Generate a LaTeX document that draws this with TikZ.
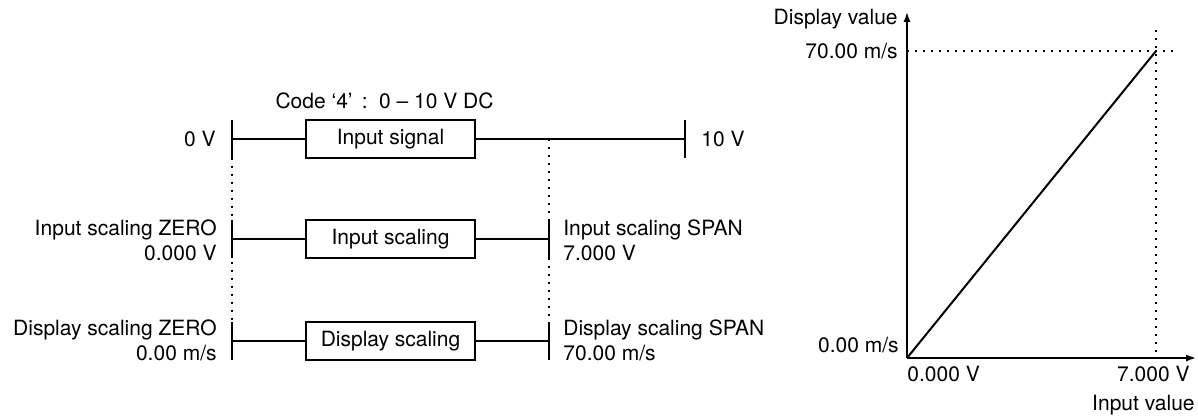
\documentclass[tikz,border=0pt]{standalone}
\usepackage{fontspec}
\setmainfont{TeX Gyre Heros}
\usepackage{tikz}
\usetikzlibrary{positioning,arrows.meta}

\begin{document}
\begin{tikzpicture}[x=0.5pt,y=-0.5pt,font=\fontsize{10.5}{12.5}\selectfont,
   blk/.style={draw,line width=1pt,minimum width=84.5pt,minimum height=19pt,inner sep=0pt},
   lbl/.style={inner sep=0pt},
   bar/.style={line width=1pt},
   guide/.style={line width=1pt,dash pattern=on 1pt off 3pt},
   axis/.style={line width=0.8pt,-{Latex[length=5pt,width=3.6pt]}}]
  \useasboundingbox (0,0) rectangle (1198,416);
  % scaling chain
  \node[blk] (sig) at (390.5,139) {Input signal};
  \node[blk] (isc) at (390.5,239.5) {Input scaling};
  \node[blk] (dsc) at (390.5,341) {Display scaling};
  \node[lbl,above=5pt of sig,xshift=-3pt] (code) {Code ‘4’\, : \,0 – 10 V DC};
  \coordinate (z1) at (232,139);
  \coordinate (s1) at (685,139);
  \coordinate (m1) at (549,139);
  \coordinate (z2) at (232,239.5);
  \coordinate (s2) at (549,239.5);
  \coordinate (z3) at (232,341);
  \coordinate (s3) at (549,341);
  \foreach \c in {z1,s1,z2,s2,z3,s3}
    \draw[bar] ([yshift=9.5pt]\c) -- ([yshift=-9.5pt]\c);
  \draw[bar] (z1) -- (sig.west);
  \draw[bar] (sig.east) -- (s1);
  \draw[bar] (z2) -- (isc.west);
  \draw[bar] (isc.east) -- (s2);
  \draw[bar] (z3) -- (dsc.west);
  \draw[bar] (dsc.east) -- (s3);
  \draw[guide] ([yshift=-9.5pt]z1) -- ([yshift=9.5pt]z3);
  \draw[guide] (m1) -- ([yshift=9.5pt]s2);
  \draw[guide] ([yshift=-9.5pt]s2) -- ([yshift=9.5pt]s3);
  \node[lbl,anchor=east] (l1) at (216,139) {0 V};
  \node[lbl,anchor=west] (r1) at (701,139) {10 V};
  \node[lbl,anchor=east,align=right] (l2) at (217,240) {Input scaling ZERO\\0.000 V};
  \node[lbl,anchor=west,align=left] (r2) at (563,240) {Input scaling SPAN\\7.000 V};
  \node[lbl,anchor=east,align=right] (l3) at (217,340) {Display scaling ZERO\\0.00 m/s};
  \node[lbl,anchor=west,align=left] (r3) at (563,340) {Display scaling SPAN\\70.00 m/s};
  % graph
  \coordinate (o) at (907,358);
  \coordinate (ytop) at (907,12);
  \coordinate (xend) at (1196,358);
  \coordinate (pk) at (1156,51);
  \coordinate (hend) at (1178,51);
  \coordinate (vtop) at (1156,30);
  \draw[guide] (o |- pk) -- (hend);
  \draw[guide] (vtop) -- (pk |- o);
  \draw[axis] (o) -- (ytop);
  \draw[axis] (o) -- (xend);
  \draw[line width=1pt] (o) -- (pk);
  \node[lbl,anchor=east] (yname) at (898,19) {Display value};
  \node[lbl,anchor=east] (ymax) at (898,51) {70.00 m/s};
  \node[lbl,anchor=east] (ymin) at (899,345) {0.00 m/s};
  \node[lbl,anchor=west] (xmin) at (907,374) {0.000 V};
  \node[lbl,anchor=east] (xmax) at (1190,374) {7.000 V};
  \node[lbl,anchor=east] (xname) at (1195,405) {Input value};
\end{tikzpicture}
\end{document}
